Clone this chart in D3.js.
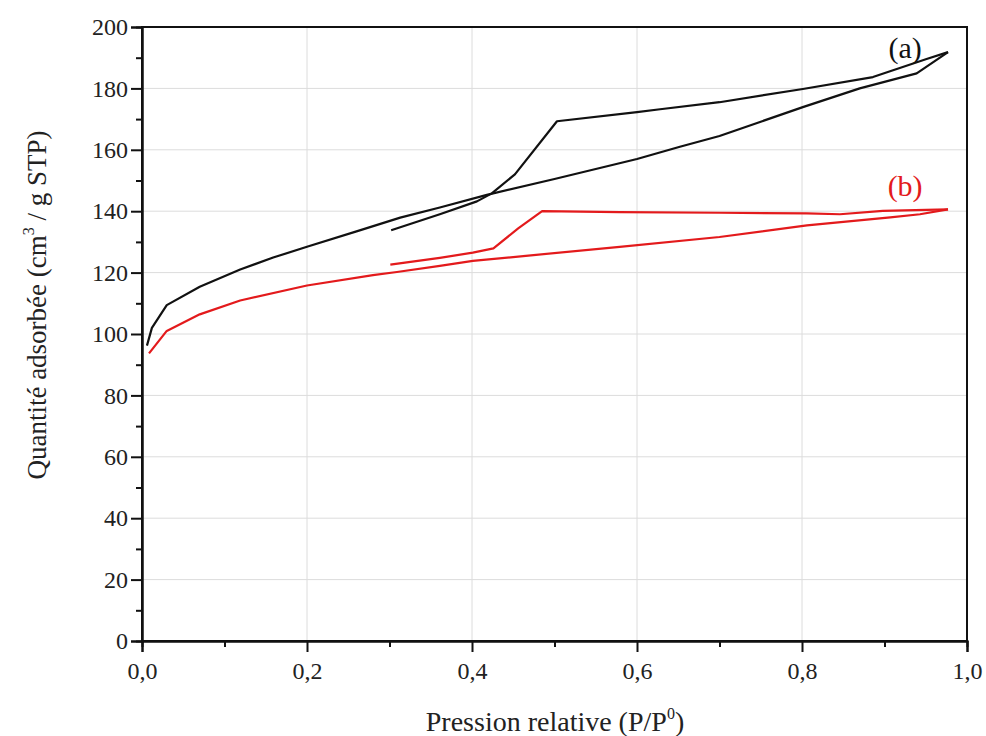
<!DOCTYPE html>
<html><head><meta charset="utf-8">
<script src="https://cdn.jsdelivr.net/npm/d3@7"></script>
<style>body{margin:0;background:#fff}svg{display:block}text{font-family:"Liberation Serif","Times New Roman",serif}</style>
</head><body><svg id="c" width="986" height="736"></svg>
<script>
// Sample (a) – black
const aAdsX = [0.006,0.012,0.030,0.070,0.119,0.159,0.200,0.261,0.313,0.361,0.418,0.500,0.600,0.652,0.700,0.801,0.870,0.939,0.977];
const aAdsY = [96.2,102.0,109.4,115.4,121.0,124.9,128.4,133.5,137.9,141.2,145.3,150.5,157.0,161.0,164.5,173.9,180.0,184.9,191.8];
const aDesX = [0.977,0.951,0.886,0.801,0.700,0.628,0.600,0.503,0.452,0.424,0.406,0.361,0.302];
const aDesY = [191.8,189.6,183.7,179.8,175.5,173.2,172.3,169.3,152.0,145.8,143.2,139.0,133.8];
// Sample (b) – red
const bAdsX = [0.0085,0.030,0.070,0.119,0.200,0.280,0.309,0.361,0.401,0.579,0.700,0.806,0.907,0.943,0.977];
const bAdsY = [93.7,101.0,106.4,110.9,115.8,119.2,120.2,122.2,123.8,128.4,131.6,135.4,138.0,139.0,140.6];
const bDesX = [0.977,0.898,0.846,0.806,0.700,0.579,0.485,0.456,0.426,0.401,0.361,0.301];
const bDesY = [140.6,140.1,139.0,139.3,139.5,139.7,140.0,134.4,127.9,126.5,124.8,122.6];
const xTicks = [0,0.2,0.4,0.6,0.8,1.0];
const xTickLabels = ["0,0","0,2","0,4","0,6","0,8","1,0"];
const yTicks = [0,20,40,60,80,100,120,140,160,180,200];
const seriesLabels = ["(a)","(b)"];
const colors = ["#111111","#e31a1c"];

const svg = d3.select("#c");
const L=142,R=967,T=27,B=641;
const x = d3.scaleLinear().domain([0,1]).range([L,R]);
const y = d3.scaleLinear().domain([0,200]).range([B,T]);

// grid
const g = svg.append("g");
g.selectAll(".gx").data(xTicks.slice(1,-1)).enter().append("line")
 .attr("x1",d=>x(d)).attr("x2",d=>x(d)).attr("y1",T).attr("y2",B)
 .attr("stroke","#dcdcdc").attr("stroke-width",1);
g.selectAll(".gy").data(yTicks.slice(1,-1)).enter().append("line")
 .attr("y1",d=>y(d)).attr("y2",d=>y(d)).attr("x1",L).attr("x2",R)
 .attr("stroke","#dcdcdc").attr("stroke-width",1);

// frame
svg.append("rect").attr("x",L).attr("y",T).attr("width",R-L).attr("height",B-T)
 .attr("fill","none").attr("stroke","#111").attr("stroke-width",2);

// axes
const xAxis = d3.axisBottom(x).tickValues(xTicks).tickFormat((d,i)=>xTickLabels[i]).tickSize(11).tickPadding(10);
const xMinor = d3.axisBottom(x).tickValues(d3.range(0.1,1,0.2)).tickFormat("").tickSize(6);
const yAxis = d3.axisLeft(y).tickValues(yTicks).tickFormat(d=>d).tickSize(11).tickPadding(3);
const yMinor = d3.axisLeft(y).tickValues(d3.range(10,200,20)).tickFormat("").tickSize(6);
function style(sel){
  sel.select(".domain").attr("stroke","#111").attr("stroke-width",2);
  sel.selectAll(".tick line").attr("stroke","#111").attr("stroke-width",2);
  sel.selectAll("text").attr("font-size",24).attr("fill","#222").style("font-family","'Liberation Serif',serif");
}
svg.append("g").attr("transform",`translate(0,${B})`).call(xAxis).call(style);
svg.append("g").attr("transform",`translate(0,${B})`).call(xMinor).call(style);
svg.append("g").attr("transform",`translate(${L},0)`).call(yAxis).call(style);
svg.append("g").attr("transform",`translate(${L},0)`).call(yMinor).call(style);

// curves
const line = d3.line().x(d=>x(d[0])).y(d=>y(d[1]));
const zip=(a,b)=>a.map((v,i)=>[v,b[i]]);
const curves=[[zip(aAdsX,aAdsY),0],[zip(aDesX,aDesY),0],[zip(bAdsX,bAdsY),1],[zip(bDesX,bDesY),1]];
svg.selectAll(".crv").data(curves).enter().append("path")
 .attr("d",d=>line(d[0])).attr("fill","none").attr("stroke",d=>colors[d[1]])
 .attr("stroke-width",2.2).attr("stroke-linejoin","round");

// labels
svg.append("text").attr("x",x(0.925)).attr("y",y(190.0)).attr("text-anchor","middle")
 .attr("font-size",30).attr("fill",colors[0]).text(seriesLabels[0]);
svg.append("text").attr("x",x(0.925)).attr("y",y(145.0)).attr("text-anchor","middle")
 .attr("font-size",30).attr("fill",colors[1]).text(seriesLabels[1]);

// axis titles
const xt = svg.append("text").attr("x",555).attr("y",731).attr("text-anchor","middle").attr("font-size",28).attr("fill","#222");
xt.append("tspan").text("Pression relative (P/P");
xt.append("tspan").attr("font-size",16).attr("dy",-12).text("0");
xt.append("tspan").attr("dy",12).text(")");
const yt = svg.append("text").attr("transform","translate(46,305) rotate(-90)").attr("text-anchor","middle").attr("font-size",27).attr("fill","#222");
yt.append("tspan").text("Quantité adsorbée (cm");
yt.append("tspan").attr("font-size",16).attr("dy",-12).text("3");
yt.append("tspan").attr("dy",12).text(" / g STP)");
</script></body></html>
